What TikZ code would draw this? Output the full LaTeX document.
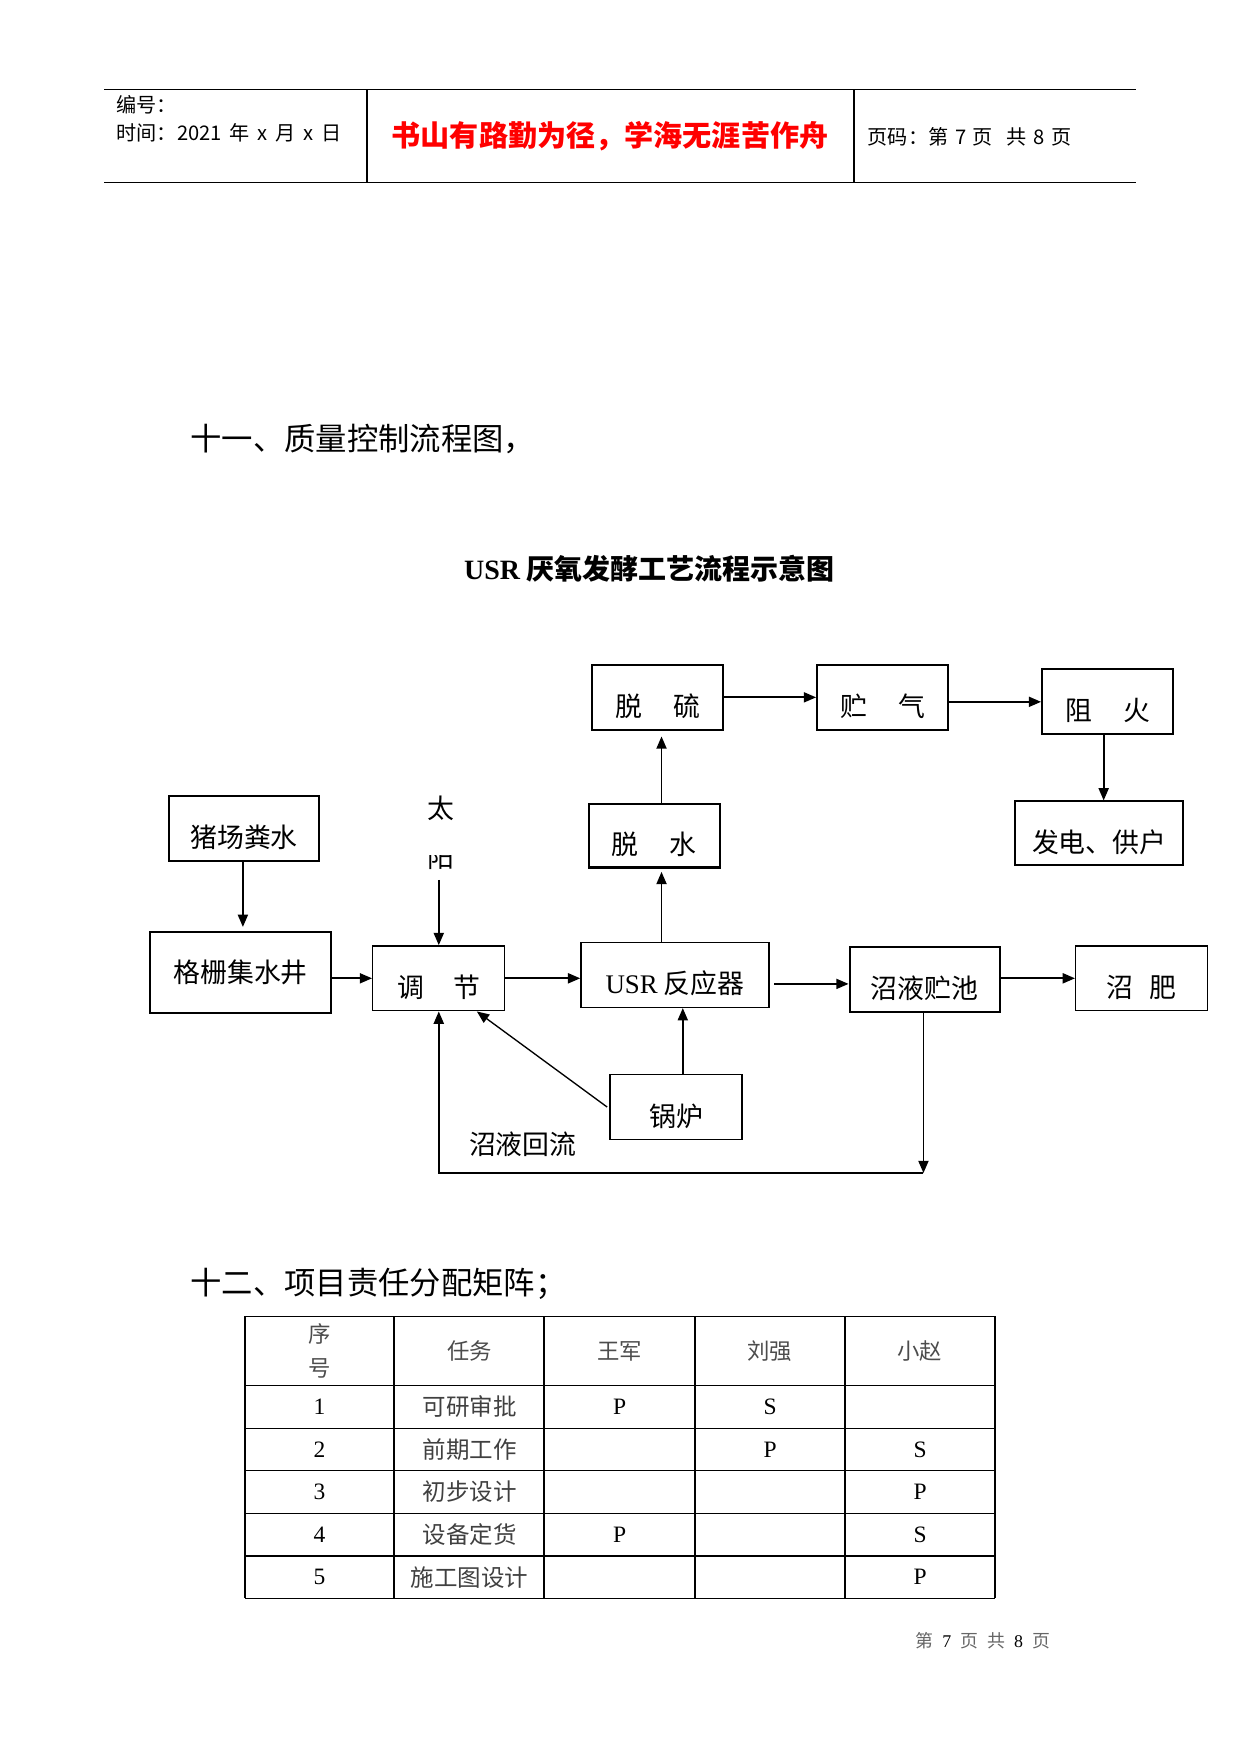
\documentclass[tikz,border=0pt]{standalone}
\usepackage{fontspec}
\setmainfont{Noto Sans CJK SC}
\newfontfamily\tms{Liberation Serif}
\usetikzlibrary{arrows.meta}
\tikzset{
    box/.style={draw, rectangle, line width=1.8pt, minimum height=58pt, minimum width=117pt,
        inner sep=0pt, text height=34pt, text depth=0pt, font=\fontsize{24}{28}\selectfont},
    lightbox/.style={line width=1.2pt},
    flow/.style={line width=1.6pt, -{Triangle[length=11pt,width=9pt]}},
    cell/.style={inner sep=0pt, font=\fontsize{21}{25}\selectfont}
}

\begin{document}
\begin{tikzpicture}[x=1pt, y=-1pt]
    \useasboundingbox (0,0) rectangle (1108.5,1567);

    % page header
    \draw[line width=1.2pt] (93,80) -- (1015,80);
    \draw[line width=1.2pt] (93,163) -- (1015,163);
    \draw[line width=2pt] (328,80) -- (328,163);
    \draw[line width=1.2pt] (763,80) -- (763,163);
    \node[anchor=west, inner sep=0pt, font=\fontsize{18}{20}\selectfont] (bianhao) at (104,94) {编号：};
    \node[anchor=west, inner sep=0pt, font=\fontsize{18}{20}\selectfont] (shijian) at (104,119)
        {时间：2021\hspace{7pt}年\hspace{7pt}x\hspace{7pt}月\hspace{7pt}x\hspace{7pt}日};
    \node[inner sep=0pt, text=red, font=\fontsize{26}{30}\selectfont\bfseries] (motto) at (545,122) {书山有路勤为径，学海无涯苦作舟};
    \node[anchor=west, inner sep=0pt, font=\fontsize{18}{20}\selectfont] (yema) at (775,122)
        {页码：第\hspace{6pt}7\hspace{6pt}页\hspace{12pt}共\hspace{6pt}8\hspace{6pt}页};

    \node[anchor=west, inner sep=0pt, font=\fontsize{28}{32}\selectfont] (sec11) at (170,392) {十一、质量控制流程图，};
    \node[inner sep=0pt, font=\fontsize{25}{29}\selectfont\bfseries] (title) at (580,508) {{\tms USR} 厌氧发酵工艺流程示意图};

    % boxes
    \node[box] (tuoliu) at (587.5,623) {脱\hspace{1.15em}硫};
    \node[box] (zhuqi) at (788.5,623) {贮\hspace{1.15em}气};
    \node[box] (zuhuo) at (989.5,627) {阻\hspace{1.15em}火};
    \node[box, minimum width=150pt, minimum height=57pt] (fadian) at (982,744.5) {发电、供户};
    \node[box, minimum height=57pt] (tuoshui) at (584.5,746.5) {脱\hspace{1.15em}水};
    \node[box, minimum width=134pt] (zhuchang) at (218,740) {猪场粪水};
    \node[box, minimum width=162pt, minimum height=72pt, text height=18pt] (geshan) at (215,869) {格栅集水井};
    \node[box, lightbox, minimum width=118pt] (tiaojie) at (392,874) {调\hspace{1.1em}节};
    \node[box, lightbox, minimum width=168pt] (usr) at (603,871) {{\tms USR} 反应器};
    \node[box, minimum width=134pt] (pool) at (826,875) {沼液贮池};
    \node[box, lightbox, minimum width=118pt] (zhafei) at (1020,874) {沼\hspace{0.6em}肥};
    \node[box, lightbox, minimum width=118pt] (guolu) at (604,989) {锅炉};

    \node[inner sep=0pt, font=\fontsize{24}{28}\selectfont] (tai) at (394,722) {太};
    \begin{scope}
        \clip (370,764) rectangle (420,790);
        \node[inner sep=0pt, font=\fontsize{24}{28}\selectfont] (yang) at (394,766) {阳};
    \end{scope}
    \coordinate (sun) at (392,786);
    \node[inner sep=0pt, font=\fontsize{24}{28}\selectfont] (huiliu) at (467,1022) {沼液回流};

    % arrows
    \draw[flow] (tuoliu.east) -- (zhuqi.west);
    \draw[flow] (zhuqi.east |- zuhuo.west) -- (zuhuo.west);
    \draw[flow] ([xshift=-3.5pt]zuhuo.south) -- ([xshift=-3.5pt]zuhuo.south |- fadian.north);
    \draw[flow, shorten >=5pt] ([xshift=6.5pt]tuoshui.north) -- ([xshift=6.5pt]tuoshui.north |- tuoliu.south);
    \draw[flow, shorten >=3pt] ([xshift=-12pt]usr.north) -- ([xshift=-12pt]usr.north |- tuoshui.south);
    \draw[flow, shorten >=4pt] ([xshift=-1pt]zhuchang.south) -- ([xshift=-1pt]zhuchang.south |- geshan.north);
    \draw[flow] (sun) -- (tiaojie.north);
    \draw[flow] (geshan.east |- tiaojie.west) -- (tiaojie.west);
    \draw[flow] (tiaojie.east) -- (tiaojie.east -| usr.west);
    \draw[flow, shorten <=4pt] ([yshift=-8pt]usr.east) -- ([yshift=-8pt]usr.east -| pool.west);
    \draw[flow] (pool.east |- zhafei.west) -- (zhafei.west);
    \draw[flow] ([xshift=6pt]guolu.north) -- ([xshift=6pt]guolu.north |- usr.south);
    \draw[flow, line width=1.2pt] ([xshift=-2pt]guolu.west) -- ([xshift=34pt]tiaojie.south);
    \coordinate (backR) at (825,1048);
    \coordinate (backL) at (392,1048);
    \draw[flow] (pool.south -| backR) -- (backR);
    \draw[flow] (backR) -- (backL) -- (tiaojie.south);

    % responsibility matrix
    \node[anchor=west, inner sep=0pt, font=\fontsize{28}{32}\selectfont] (sec12) at (170,1147) {十二、项目责任分配矩阵；};
    \foreach \x in {219,352,486,621,755,889}
        \draw[line width=1.2pt] (\x,1176) -- (\x,1428);
    \foreach \y in {1176,1238,1276,1314,1352,1390,1428}
        \draw[line width=1.2pt] (219,\y) -- (889,\y);
    \node[cell, text=black!70, align=center, font=\fontsize{20}{30}\selectfont] (h1) at (285.5,1207) {序\\号};
    \foreach \t [count=\c] in {任务,王军,刘强,小赵}
        \node[cell, text=black!70, font=\fontsize{20}{24}\selectfont] (h\c) at (285.5+134*\c,1207) {\t};
    \foreach \t/\a/\b/\z [count=\r] in {可研审批/P/S/, 前期工作//P/S, 初步设计///P, 设备定货/P//S, 施工图设计///P} {
        \node[cell] (n\r) at (285.5,1219+38*\r) {\tms\r};
        \node[cell, text=black!75] (t\r) at (419.5,1219+38*\r) {\t};
        \node[cell] (a\r) at (553.5,1219+38*\r) {\tms\a};
        \node[cell] (b\r) at (688,1219+38*\r) {\tms\b};
        \node[cell] (z\r) at (822,1219+38*\r) {\tms\z};
    }

    % page footer
    \node[inner sep=0pt, font=\fontsize{16}{18}\selectfont, text=black!60] (footer) at (878,1466)
        {第\hspace{8pt}{\color{black}\tms 7}\hspace{8pt}页\hspace{8pt}共\hspace{8pt}{\color{black}\tms 8}\hspace{8pt}页};
\end{tikzpicture}
\end{document}
